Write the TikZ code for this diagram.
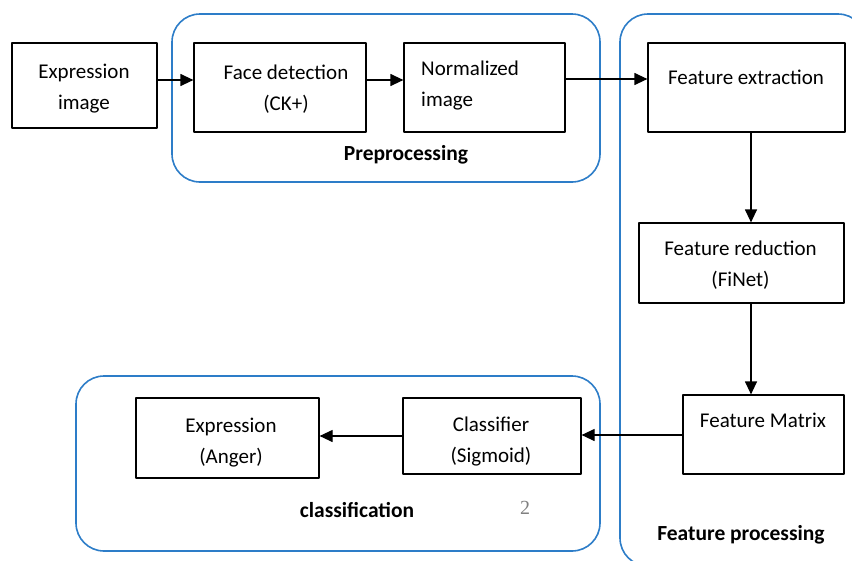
\documentclass[tikz,border=0pt]{standalone}
\usepackage{fontspec}
\setmainfont{Carlito}
\newfontfamily\numfont{Liberation Serif}
\usetikzlibrary{arrows.meta}
\definecolor{grpblue}{RGB}{45,125,200}
\begin{document}
\begin{tikzpicture}[x=1pt,y=-1pt,>={Triangle[length=13pt,width=12pt]}, line join=round,
	blk/.style={draw=black, line width=1.2pt, inner sep=0pt},
	txt/.style={align=center, inner sep=0pt, font=\fontsize{21}{31}\selectfont},
	grp/.style={draw=grpblue, line width=1.6pt, rounded corners=28pt},
	grplabel/.style={inner sep=0pt, font=\fontsize{21.5}{26}\selectfont\bfseries},
	link/.style={->, line width=1.2pt}]
	\useasboundingbox (0,0) rectangle (852,560);
	% group frames
	\draw[grp] (172,14) rectangle (600,182);
	\draw[grp] (76,376) rectangle (600,551);
	\begin{scope}
		\clip (0,0) rectangle (852,560);
		\draw[grp] (620,14) rectangle (866,566);
	\end{scope}
	% blocks
	\node[blk, minimum width=145, minimum height=85] (img) at (84.5,85.5) {};
	\node[blk, minimum width=172, minimum height=89] (face) at (280,87.5) {};
	\node[blk, minimum width=161, minimum height=89] (norm) at (484.5,87.5) {};
	\node[blk, minimum width=197, minimum height=89] (fext) at (746.5,87.5) {};
	\node[blk, minimum width=205, minimum height=80] (fred) at (741.5,263) {};
	\node[blk, minimum width=161, minimum height=79] (fmat) at (763.5,434.5) {};
	\node[blk, minimum width=178, minimum height=76] (clf) at (492,436) {};
	\node[blk, minimum width=183, minimum height=80] (expr) at (227.5,438) {};
	% block texts
	\node[txt] (imgtext) at (84,89) {Expression\\image};
	\node[txt] (facetext) at (286,89) {Face detection\\(CK+)};
	\node[txt, align=left, anchor=west] (normtext) at (421,86) {Normalized\\image};
	\node[txt] (fexttext) at (746,77) {Feature extraction};
	\node[txt] (fredtext) at (740.5,265) {Feature reduction\\(FiNet)};
	\node[txt] (fmattext) at (763,420) {Feature Matrix};
	\node[txt] (clftext) at (491,442) {Classifier\\(Sigmoid)};
	\node[txt] (exprtext) at (231,443) {Expression\\(Anger)};
	% group labels
	\node[grplabel] (prelabel) at (406,155) {Preprocessing};
	\node[grplabel] (clslabel) at (357,510) {classification};
	\node[grplabel] (featlabel) at (741,535) {Feature processing};
	\node[inner sep=0pt, text=gray, font=\fontsize{20}{24}\numfont] (pagenum) at (525,508) {2};
	% connectors
	\draw[link] (img.east |- 0,80) -- (face.west |- 0,80);
	\draw[link] (face.east |- 0,80) -- (norm.west |- 0,80);
	\draw[link] (norm.east |- 0,79) -- (fext.west |- 0,79);
	\draw[link] (fext.south -| 751,0) -- (fred.north -| 751,0);
	\draw[link] (fred.south -| 751,0) -- (fmat.north -| 751,0);
	\draw[link] (fmat.west |- 0,435) -- (clf.east |- 0,435);
	\draw[link] (clf.west |- 0,436) -- (expr.east |- 0,436);
\end{tikzpicture}
\end{document}
